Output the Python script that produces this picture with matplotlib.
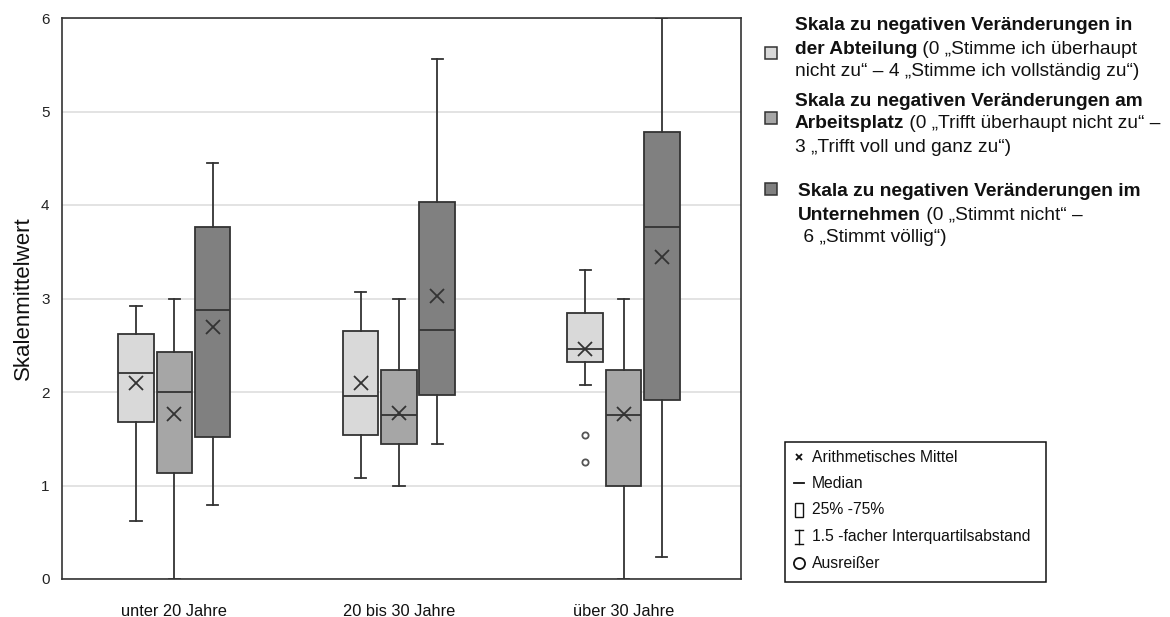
import matplotlib
matplotlib.use("Agg")
import matplotlib.pyplot as plt
from matplotlib.patches import Rectangle

plt.rcParams['font.family'] = ['Liberation Sans', 'DejaVu Sans']

# ---------------- data ----------------
groups = ["unter 20 Jahre", "20 bis 30 Jahre", "über 30 Jahre"]

abt_whislo = [0.62, 1.08, 2.07]
abt_q1     = [1.68, 1.54, 2.32]
abt_med    = [2.20, 1.96, 2.46]
abt_q3     = [2.62, 2.65, 2.84]
abt_whishi = [2.92, 3.07, 3.31]
abt_mean   = [2.10, 2.10, 2.46]
abt_fliers = [[], [], [1.54, 1.25]]

arb_whislo = [0.00, 1.00, 0.00]
arb_q1     = [1.13, 1.44, 1.00]
arb_med    = [2.00, 1.75, 1.75]
arb_q3     = [2.43, 2.24, 2.23]
arb_whishi = [3.00, 3.00, 3.00]
arb_mean   = [1.77, 1.78, 1.76]
arb_fliers = [[], [], []]

unt_whislo = [0.79, 1.44, 0.23]
unt_q1     = [1.52, 1.97, 1.91]
unt_med    = [2.88, 2.66, 3.77]
unt_q3     = [3.76, 4.03, 4.78]
unt_whishi = [4.45, 5.56, 6.00]
unt_mean   = [2.69, 3.03, 3.44]
unt_fliers = [[], [], []]

series_colors = ["#d9d9d9", "#a6a6a6", "#808080"]
y_ticks = [0, 1, 2, 3, 4, 5, 6]
y_label = "Skalenmittelwert"

series = [
    (abt_whislo, abt_q1, abt_med, abt_q3, abt_whishi, abt_mean, abt_fliers),
    (arb_whislo, arb_q1, arb_med, arb_q3, arb_whishi, arb_mean, arb_fliers),
    (unt_whislo, unt_q1, unt_med, unt_q3, unt_whishi, unt_mean, unt_fliers),
]

# ---------------- figure ----------------
W, H = 1170, 617
fig = plt.figure(figsize=(W / 100, H / 100), dpi=100)
fig.patch.set_facecolor("white")

L, R, T, B = 62, 741, 18, 579
ax = fig.add_axes([L / W, (H - B) / H, (R - L) / W, (B - T) / H])

edge = "#333333"
offset = 0.1705
width = 0.158
for si, (wl, q1, md, q3, wh, mn, fl) in enumerate(series):
    stats = []
    for gi in range(len(groups)):
        stats.append(dict(whislo=wl[gi], q1=q1[gi], med=md[gi], q3=q3[gi],
                          whishi=wh[gi], mean=mn[gi], fliers=fl[gi]))
    pos = [gi + (si - 1) * offset for gi in range(len(groups))]
    ax.bxp(stats, positions=pos, widths=width, patch_artist=True,
           showmeans=True, showfliers=True, manage_ticks=False,
           boxprops=dict(facecolor=series_colors[si], edgecolor=edge, linewidth=1.3),
           medianprops=dict(color=edge, linewidth=1.3),
           whiskerprops=dict(color=edge, linewidth=1.3),
           capprops=dict(color=edge, linewidth=1.3),
           capwidths=0.05,
           meanprops=dict(marker="x", markeredgecolor="#333333", markersize=9.5,
                          markeredgewidth=1.3),
           flierprops=dict(marker="o", markerfacecolor="white", markeredgecolor="#555555",
                           markersize=4.5, markeredgewidth=1.3),
           zorder=3)

ax.set_xlim(-0.5, (R - L) / 224.6 - 0.5)
ax.set_ylim(0, 6)
ax.set_yticks(y_ticks)
ax.set_yticklabels([str(t) for t in y_ticks], fontsize=11, color="#222222")
ax.set_xticks(range(len(groups)))
ax.set_xticklabels(groups, fontsize=11.8, color="#111111")
ax.tick_params(axis="both", length=0)
ax.tick_params(axis="y", pad=9)
ax.tick_params(axis="x", pad=18)
ax.grid(axis="y", color="#e0e0e0", linewidth=1.3, zorder=0)
ax.set_axisbelow(True)
for sp in ax.spines.values():
    sp.set_color("#333333")
    sp.set_linewidth(1.2)
ax.set_ylabel(y_label, fontsize=16, color="#111111")
ax.yaxis.set_label_coords((34 - L) / (R - L), 0.5)

# ---------------- overlay for legends (pixel coordinates) ----------------
ov = fig.add_axes([0, 0, 1, 1], facecolor="none")
ov.set_xlim(0, W)
ov.set_ylim(H, 0)
ov.axis("off")

renderer = fig.canvas.get_renderer()
fs_leg = 13.8


def mixed_line(x, y, parts, size=fs_leg):
    cur = x
    for txt, bold in parts:
        t = ov.text(cur, y, txt, fontsize=size, fontweight="bold" if bold else "normal",
                    va="center", ha="left", color="#111111")
        bb = t.get_window_extent(renderer)
        cur = cur + bb.width


legend_entries = [
    (53, [
        (795, 25, [("Skala zu negativen Veränderungen in", True)]),
        (795, 49, [("der Abteilung", True), (" (0 „Stimme ich überhaupt", False)]),
        (795, 72, [("nicht zu“ – 4 „Stimme ich vollständig zu“)", False)]),
    ]),
    (118, [
        (795, 101, [("Skala zu negativen Veränderungen am", True)]),
        (795, 124, [("Arbeitsplatz", True), (" (0 „Trifft überhaupt nicht zu“ –", False)]),
        (795, 148, [("3 „Trifft voll und ganz zu“)", False)]),
    ]),
    (189, [
        (798, 192, [("Skala zu negativen Veränderungen im", True)]),
        (798, 216, [("Unternehmen", True), (" (0 „Stimmt nicht“ –", False)]),
        (798, 238, [(" 6 „Stimmt völlig“)", False)]),
    ]),
]

for i, (sy, lines) in enumerate(legend_entries):
    ov.add_patch(Rectangle((765, sy - 6), 12, 12, facecolor=series_colors[i],
                           edgecolor="#333333", linewidth=1.1))
    for (lx, ly, parts) in lines:
        mixed_line(lx, ly, parts)

# box legend
ov.add_patch(Rectangle((785, 442), 261, 140, facecolor="white", edgecolor="#111111",
                       linewidth=1.1))
sx = 799
tx = 812
fs_small = 11.3
rows = [457, 483, 510, 537, 563]
texts = ["Arithmetisches Mittel", "Median", "25% -75%",
         "1.5 -facher Interquartilsabstand", "Ausreißer"]
ov.plot([sx], [rows[0]], marker="x", color="#111111", markersize=5, markeredgewidth=1.3)
ov.plot([sx - 5, sx + 5], [rows[1], rows[1]], color="#111111", linewidth=1.3)
ov.add_patch(Rectangle((sx - 4, rows[2] - 7), 8, 14, facecolor="white",
                       edgecolor="#111111", linewidth=1.0))
ov.plot([sx, sx], [rows[3] - 7, rows[3] + 7], color="#111111", linewidth=1.0)
ov.plot([sx - 4, sx + 4], [rows[3] - 7, rows[3] - 7], color="#111111", linewidth=1.0)
ov.plot([sx - 4, sx + 4], [rows[3] + 7, rows[3] + 7], color="#111111", linewidth=1.0)
ov.plot([sx], [rows[4]], marker="o", markerfacecolor="white", markeredgecolor="#111111",
        markersize=8, markeredgewidth=1.3)
for ry, t in zip(rows, texts):
    ov.text(tx, ry, t, fontsize=fs_small, va="center", ha="left", color="#111111")

fig.savefig("out.png", dpi=100, facecolor="white")
